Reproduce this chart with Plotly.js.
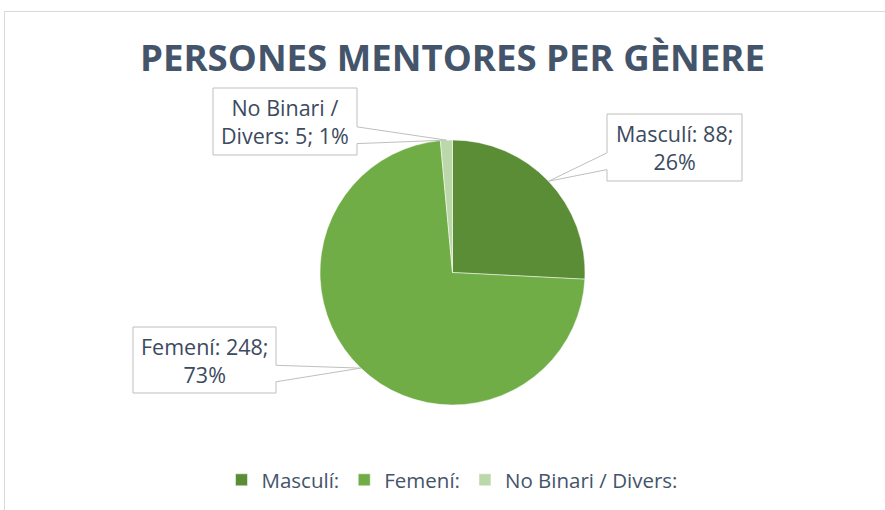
<!DOCTYPE html>
<html><head><meta charset="utf-8">
<script src="https://cdn.plot.ly/plotly-3.0.1.min.js"></script>
<style>html,body{margin:0;padding:0;background:#fff}</style>
</head><body>
<div id="chart" style="width:885px;height:510px"></div>
<script>
const categories = ['Masculí:', 'Femení:', 'No Binari / Divers:'];
const values = [88, 248, 5];
const colors = ['#5A8D36', '#70AD47', '#BCD8AB'];
const titleText = 'PERSONES MENTORES PER GÈNERE';

const W = 885, H = 510;
const PX = p => p / W, PY = p => 1 - p / H;
// pie placement (pixels)
const cx = 452.5, cy = 272.5, r = 132.5;
// callout boxes
const boxes = [
  {x0:607, y0:114, x1:742, y1:181, side:'left'},
  {x0:133, y0:327, x1:276, y1:393, side:'right'},
  {x0:213, y0:88,  x1:357, y1:155, side:'right'}
];
const wa = 0.58, wb = 0.83;

const total = values.reduce((a,b)=>a+b,0);
function wrap(s, n){
  const words = s.split(' '); const lines=[]; let cur='';
  for(const w of words){ if(cur && (cur+' '+w).length>n){lines.push(cur);cur=w;} else cur = cur? cur+' '+w : w; }
  if(cur) lines.push(cur); return lines.join('<br>');
}
const shapes = [{type:'rect', xref:'paper', yref:'paper', x0:PX(4.5), x1:PX(895), y0:PY(11.5), y1:PY(520),
  line:{color:'#D9D9D9', width:1}, fillcolor:'rgba(0,0,0,0)', layer:'below'}];
const annotations = [];
let cum = 0;
values.forEach((v,i)=>{
  const a = 2*Math.PI*(cum + v/2)/total; cum += v;
  const tx = cx + r*Math.sin(a), ty = cy - r*Math.cos(a);
  const b = boxes[i];
  const ya = b.y0 + wa*(b.y1-b.y0), yb = b.y0 + wb*(b.y1-b.y0);
  const P = (x,y)=> PX(x).toFixed(5)+','+PY(y).toFixed(5);
  let path;
  if (b.side==='left') {
    path = 'M'+P(b.x0,b.y0)+'L'+P(b.x1,b.y0)+'L'+P(b.x1,b.y1)+'L'+P(b.x0,b.y1)+'L'+P(b.x0,yb)+'L'+P(tx,ty)+'L'+P(b.x0,ya)+'Z';
  } else {
    path = 'M'+P(b.x0,b.y0)+'L'+P(b.x1,b.y0)+'L'+P(b.x1,ya)+'L'+P(tx,ty)+'L'+P(b.x1,yb)+'L'+P(b.x1,b.y1)+'L'+P(b.x0,b.y1)+'Z';
  }
  shapes.push({type:'path', xref:'paper', yref:'paper', path:path, line:{color:'#BFBFBF', width:1}, fillcolor:'#FFFFFF', layer:'above'});
  const pct = Math.round(100*v/total);
  const label = wrap(categories[i]+' '+v+'; '+pct+'%', 13);
  annotations.push({xref:'paper', yref:'paper', x:PX((b.x0+b.x1)/2), y:PY((b.y0+b.y1)/2), xanchor:'center', yanchor:'middle',
    text:label, showarrow:false, align:'center', font:{family:'Open Sans, sans-serif', size:21.5, color:'#3B4A5E'}});
});

const data = [{
  type:'pie', labels:categories, values:values, sort:false, direction:'clockwise', rotation:0,
  marker:{colors:colors, line:{color:'#FFFFFF', width:0.5}}, textinfo:'none', hoverinfo:'none',
  domain:{x:[PX(cx-r), PX(cx+r)], y:[PY(cy+r), PY(cy-r)]}
}];
const layout = {
  width:W, height:H, margin:{l:0,r:0,t:0,b:0,pad:0}, paper_bgcolor:'#FFFFFF',
  title:{text:'<b>'+titleText+'</b>', x:PX(452.5), xanchor:'center', xref:'paper', yref:'container', y:PY(58), yanchor:'middle',
    font:{family:'Open Sans, sans-serif', size:36.6, color:'#44546A'}},
  showlegend:true,
  legend:{orientation:'h', x:PX(452), xanchor:'center', y:PY(480), yanchor:'middle', font:{family:'Open Sans, sans-serif', size:20.5, color:'#44546A'}, traceorder:'normal'},
  shapes:shapes, annotations:annotations
};
Plotly.newPlot('chart', data, layout, {displayModeBar:false, staticPlot:true});
</script>
</body></html>
